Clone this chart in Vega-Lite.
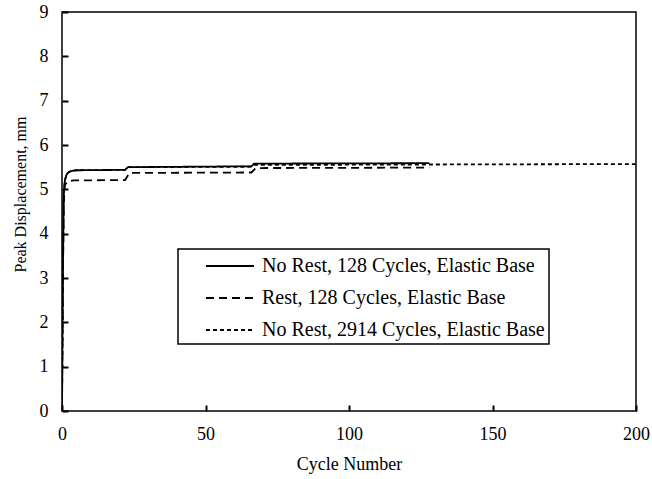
{
  "$schema": "https://vega.github.io/schema/vega-lite/v6.json",
  "width": 574,
  "height": 399,
  "autosize": {"type": "none"},
  "padding": {"left": 62, "top": 12, "right": 16, "bottom": 68},
  "background": "white",
  "config": {
    "font": "Liberation Serif",
    "view": {"stroke": "black", "strokeWidth": 1.5},
    "axis": {
      "grid": false,
      "zindex": 1,
      "domain": false,
      "ticks": true,
      "offset": -6,
      "tickColor": "black",
      "tickOpacity": 1,
      "tickWidth": 2,
      "tickSize": 6,
      "labelColor": "black",
      "labelFont": "Liberation Serif",
      "labelFontSize": 18,
      "labelFlush": false,
      "titleFont": "Liberation Serif",
      "titleFontSize": 18,
      "titleFontWeight": "normal",
      "titleColor": "black"
    },
    "legend": {
      "labelFont": "Liberation Serif",
      "labelFontSize": 20,
      "labelColor": "black",
      "labelLimit": 600,
      "strokeWidth": 1.5
    }
  },
  "data": {
    "values": [
      {"series": "No Rest, 128 Cycles, Elastic Base", "cycle": 0, "disp": 0},
      {"series": "No Rest, 128 Cycles, Elastic Base", "cycle": 0.3, "disp": 3.0},
      {"series": "No Rest, 128 Cycles, Elastic Base", "cycle": 0.6, "disp": 4.9},
      {"series": "No Rest, 128 Cycles, Elastic Base", "cycle": 1, "disp": 5.2},
      {"series": "No Rest, 128 Cycles, Elastic Base", "cycle": 1.5, "disp": 5.32},
      {"series": "No Rest, 128 Cycles, Elastic Base", "cycle": 2, "disp": 5.37},
      {"series": "No Rest, 128 Cycles, Elastic Base", "cycle": 3, "disp": 5.41},
      {"series": "No Rest, 128 Cycles, Elastic Base", "cycle": 5, "disp": 5.43},
      {"series": "No Rest, 128 Cycles, Elastic Base", "cycle": 22, "disp": 5.44},
      {"series": "No Rest, 128 Cycles, Elastic Base", "cycle": 23, "disp": 5.5},
      {"series": "No Rest, 128 Cycles, Elastic Base", "cycle": 66, "disp": 5.52},
      {"series": "No Rest, 128 Cycles, Elastic Base", "cycle": 67, "disp": 5.58},
      {"series": "No Rest, 128 Cycles, Elastic Base", "cycle": 128, "disp": 5.59},
      {"series": "Rest, 128 Cycles, Elastic Base", "cycle": 0, "disp": 0},
      {"series": "Rest, 128 Cycles, Elastic Base", "cycle": 0.3, "disp": 2.8},
      {"series": "Rest, 128 Cycles, Elastic Base", "cycle": 0.6, "disp": 4.7},
      {"series": "Rest, 128 Cycles, Elastic Base", "cycle": 1, "disp": 5.1},
      {"series": "Rest, 128 Cycles, Elastic Base", "cycle": 2, "disp": 5.18},
      {"series": "Rest, 128 Cycles, Elastic Base", "cycle": 4, "disp": 5.2},
      {"series": "Rest, 128 Cycles, Elastic Base", "cycle": 22, "disp": 5.21},
      {"series": "Rest, 128 Cycles, Elastic Base", "cycle": 23.5, "disp": 5.37},
      {"series": "Rest, 128 Cycles, Elastic Base", "cycle": 66, "disp": 5.38},
      {"series": "Rest, 128 Cycles, Elastic Base", "cycle": 67.5, "disp": 5.48},
      {"series": "Rest, 128 Cycles, Elastic Base", "cycle": 128, "disp": 5.49},
      {"series": "No Rest, 2914 Cycles, Elastic Base", "cycle": 0, "disp": 0},
      {"series": "No Rest, 2914 Cycles, Elastic Base", "cycle": 0.3, "disp": 3.0},
      {"series": "No Rest, 2914 Cycles, Elastic Base", "cycle": 0.6, "disp": 4.9},
      {"series": "No Rest, 2914 Cycles, Elastic Base", "cycle": 1, "disp": 5.2},
      {"series": "No Rest, 2914 Cycles, Elastic Base", "cycle": 1.5, "disp": 5.32},
      {"series": "No Rest, 2914 Cycles, Elastic Base", "cycle": 2, "disp": 5.37},
      {"series": "No Rest, 2914 Cycles, Elastic Base", "cycle": 3, "disp": 5.41},
      {"series": "No Rest, 2914 Cycles, Elastic Base", "cycle": 5, "disp": 5.43},
      {"series": "No Rest, 2914 Cycles, Elastic Base", "cycle": 22, "disp": 5.44},
      {"series": "No Rest, 2914 Cycles, Elastic Base", "cycle": 23, "disp": 5.5},
      {"series": "No Rest, 2914 Cycles, Elastic Base", "cycle": 66, "disp": 5.51},
      {"series": "No Rest, 2914 Cycles, Elastic Base", "cycle": 67, "disp": 5.55},
      {"series": "No Rest, 2914 Cycles, Elastic Base", "cycle": 128, "disp": 5.56},
      {"series": "No Rest, 2914 Cycles, Elastic Base", "cycle": 200, "disp": 5.57}
    ]
  },
  "mark": {"type": "line", "color": "black", "strokeWidth": 1.8, "clip": true},
  "encoding": {
    "x": {
      "field": "cycle",
      "type": "quantitative",
      "title": "Cycle Number",
      "scale": {"domain": [0, 200], "nice": false},
      "axis": {"values": [0, 50, 100, 150, 200], "ticks": true, "labelPadding": 14, "titlePadding": 12}
    },
    "y": {
      "field": "disp",
      "type": "quantitative",
      "title": "Peak Displacement, mm",
      "scale": {"domain": [0, 9], "nice": false},
      "axis": {
        "values": [0, 1, 2, 3, 4, 5, 6, 7, 8, 9],
        "ticks": true,
        "labelPadding": 14,
        "titleFontSize": 16,
        "titleX": -48,
        "titleY": 182,
        "titleBaseline": "middle"
      }
    },
    "strokeDash": {
      "field": "series",
      "type": "nominal",
      "title": null,
      "scale": {
        "domain": ["No Rest, 128 Cycles, Elastic Base", "Rest, 128 Cycles, Elastic Base", "No Rest, 2914 Cycles, Elastic Base"],
        "range": [[1, 0], [8, 5], [4, 3]]
      },
      "legend": {
        "orient": "none",
        "legendX": 116,
        "legendY": 237,
        "fillColor": "white",
        "strokeColor": "black",
        "padding": 4,
        "symbolType": "M-2,0L2,0",
        "symbolSize": 576,
        "symbolStrokeColor": "black",
        "symbolStrokeWidth": 1.8,
        "symbolOffset": 35,
        "rowPadding": 9,
        "labelOffset": 19
      }
    }
  }
}
